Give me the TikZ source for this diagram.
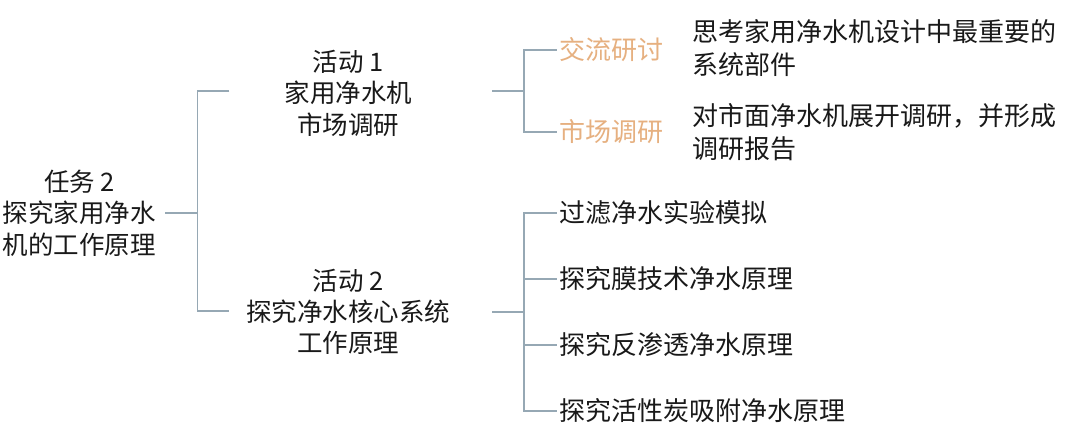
\documentclass[tikz,border=0pt]{standalone}
\usepackage{fontspec}
\setmainfont{Noto Sans CJK SC}
\usepackage{tikz}
\usetikzlibrary{positioning}
\definecolor{linkgray}{RGB}{150,168,180}
\definecolor{topicorange}{RGB}{230,176,128}
\definecolor{textblack}{RGB}{25,25,25}
\tikzstyle{link} = [line width=1.8pt, linkgray]
\tikzstyle{block} = [align=center, text=textblack, inner sep=3pt, font=\fontsize{25.5}{31.5}\selectfont]
\tikzstyle{leaf} = [anchor=west, inner sep=2pt, text=textblack, font=\fontsize{26}{33}\selectfont]
\tikzstyle{topic} = [leaf, text=topicorange]
\tikzstyle{desc} = [align=left, inner sep=2pt, text=textblack, font=\fontsize{26}{33}\selectfont]

\begin{document}
\begin{tikzpicture}[x=1pt, y=-1pt]
        \fill[white] (0,0) rectangle (1080,442);
        \node[block] (task) at (79,213) {任务 2\\探究家用净水\\机的工作原理};
        \node[block] (act1) at (348,93) {活动 1\\家用净水机\\市场调研};
        \node[block] (act2) at (348,312) {活动 2\\探究净水核心系统\\工作原理};
        \coordinate (j0) at (197,213);
        \coordinate (a1in) at (229,91);
        \coordinate (a2in) at (229,311);
        \draw[link, shorten <=6pt] (task.east) -- (j0);
        \draw[link] (a1in) -| (j0) |- (a2in);
        \coordinate (a1out) at (492,91);
        \coordinate (j1) at (524,91);
        \node[topic] (talk) at (557,50) {交流研讨};
        \node[topic] (market) at (557,132) {市场调研};
        \node[desc, right=25pt of talk, yshift=2pt] (talkdesc) {思考家用净水机设计中最重要的\\系统部件};
        \node[desc, right=25pt of market] (marketdesc) {对市面净水机展开调研，并形成\\调研报告};
        \draw[link] (a1out) -- (j1);
        \draw[link] (j1) |- (talk.west);
        \draw[link] (j1) |- (market.west);
        \coordinate (a2out) at (492,312);
        \coordinate (j2) at (524,312);
        \draw[link] (a2out) -- (j2);
        \foreach \t [count=\i] in {过滤净水实验模拟, 探究膜技术净水原理, 探究反渗透净水原理, 探究活性炭吸附净水原理}{
            \node[leaf] (sub\i) at (557,147+66*\i) {\t};
            \draw[link] (j2) |- (sub\i.west);
        }
\end{tikzpicture}
\end{document}
